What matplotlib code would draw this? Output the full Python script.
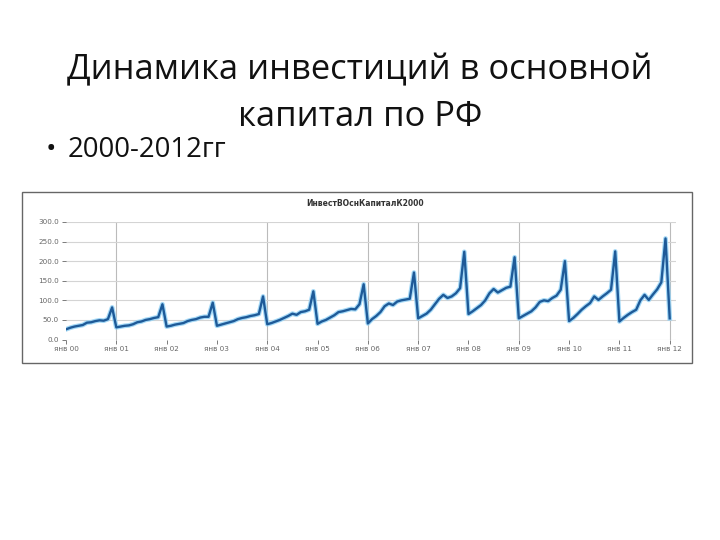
import matplotlib
matplotlib.use("Agg")
import matplotlib.pyplot as plt
import numpy as np

# monthly investment index (янв 2000 = 0 ... янв 2012 = 144)
y2000 = [26, 30, 33, 35, 37, 43, 44, 47, 49, 48, 52, 82]
y2001 = [31, 33, 35, 36, 39, 44, 46, 50, 52, 55, 57, 90]
y2002 = [33, 35, 38, 40, 42, 47, 50, 52, 56, 58, 58, 94]
y2003 = [35, 38, 41, 44, 47, 52, 55, 57, 60, 62, 65, 110]
y2004 = [39, 42, 46, 50, 55, 60, 66, 63, 70, 72, 76, 123]
y2005 = [40, 46, 50, 56, 62, 70, 72, 75, 78, 77, 90, 141]
y2006 = [41, 52, 60, 70, 85, 92, 88, 97, 100, 102, 104, 171]
y2007 = [54, 60, 66, 76, 90, 104, 114, 106, 110, 118, 131, 224]
y2008 = [65, 72, 80, 88, 100, 118, 129, 120, 126, 132, 135, 210]
y2009 = [54, 60, 66, 72, 82, 96, 100, 98, 106, 112, 127, 200]
y2010 = [47, 55, 65, 76, 85, 93, 110, 101, 110, 118, 127, 225]
y2011 = [46, 55, 63, 70, 76, 100, 114, 101, 115, 128, 146, 258]
y2012 = [54]

values = y2000 + y2001 + y2002 + y2003 + y2004 + y2005 + y2006 + \
    y2007 + y2008 + y2009 + y2010 + y2011 + y2012
months = np.arange(len(values))

year_labels = ["янв 00", "янв 01", "янв 02", "янв 03", "янв 04", "янв 05", "янв 06",
               "янв 07", "янв 08", "янв 09", "янв 10", "янв 11", "янв 12"]
vline_labels = ["янв 01", "янв 04", "янв 06", "янв 07", "янв 09", "янв 12"]
y_ticks = [0, 50, 100, 150, 200, 250, 300]
y_labels = ["0.0", "50.0", "100.0", "150.0", "200.0", "250.0", "300.0"]

title_font = ["Open Sans", "DejaVu Sans"]

fig = plt.figure(figsize=(7.2, 5.4), dpi=100)
fig.patch.set_facecolor("white")

# slide title and bullet
fig.text(0.5, 1 - 70 / 540, "Динамика инвестиций в основной", ha="center", va="center",
         fontsize=24.8, family=title_font, color="#111111")
fig.text(0.5, 1 - 117 / 540, "капитал по РФ", ha="center", va="center",
         fontsize=24.8, family=title_font, color="#111111")
fig.text(46 / 720, 1 - 150 / 540, "•", ha="left", va="center",
         fontsize=20, family=title_font, color="#111111")
fig.text(68 / 720, 1 - 150 / 540, "2000-2012гг", ha="left", va="center",
         fontsize=19.8, family=title_font, color="#111111")

# frame of the embedded picture
frame = plt.Rectangle((22 / 720, 1 - 363 / 540), 670 / 720, 171 / 540,
                      transform=fig.transFigure, fill=False, edgecolor="#666666", linewidth=1.0)
fig.patches.append(frame)
fig.text(365 / 720, 1 - 203 / 540, "ИнвестВОснКапиталК2000", ha="center", va="center",
         fontsize=5.5, fontweight="bold", color="#333333")

ax = fig.add_axes([66 / 720, 1 - 339.5 / 540, 610 / 720, 117.5 / 540])
ax.set_facecolor("white")

xt = [12 * i for i in range(len(year_labels))]
for lab in vline_labels:
    ax.axvline(xt[year_labels.index(lab)], color="#bbbbbb", linewidth=0.8, zorder=1)
for yv in y_ticks:
    ax.axhline(yv, color="#d4d4d4", linewidth=0.8, zorder=1)

ax.plot(months, values, color="#8fd0f5", linewidth=3.4, alpha=0.8, zorder=2)
ax.plot(months, values, color="#1e5a98", linewidth=1.7, zorder=3)

ax.set_xlim(0, 145.5)
ax.set_ylim(0, 300)
ax.set_xticks(xt)
ax.set_xticklabels(year_labels)
ax.set_yticks(y_ticks)
ax.set_yticklabels(y_labels)
ax.tick_params(axis="both", labelsize=5.2, colors="#666666", length=3, width=0.6, pad=2)
for s in ax.spines.values():
    s.set_visible(False)

fig.savefig("out.png", dpi=100)
